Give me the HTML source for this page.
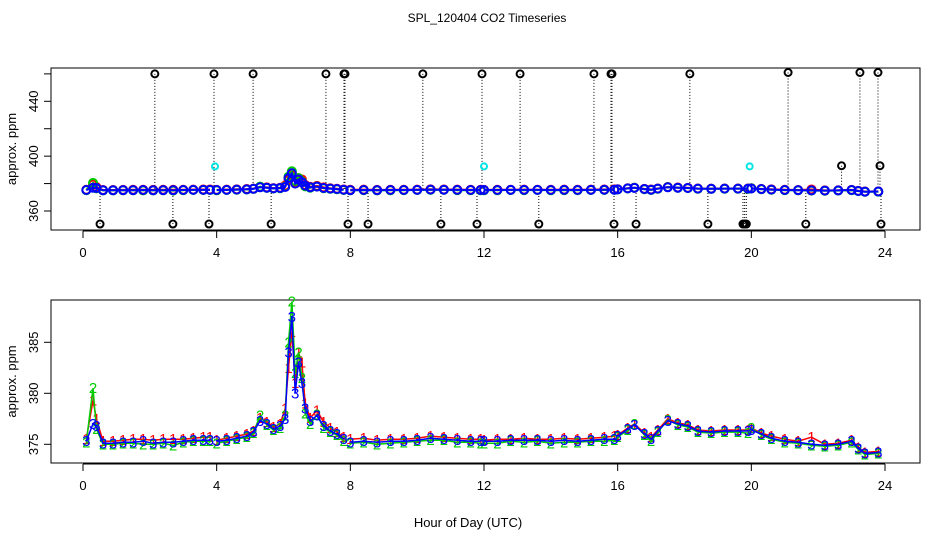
<!DOCTYPE html>
<html><head><meta charset="utf-8"><style>
body{margin:0;background:#fff}
svg{display:block;font-family:"Liberation Sans",Arial,sans-serif}
</style></head><body>
<svg id="chart" width="936" height="540" viewBox="0 0 936 540" xmlns="http://www.w3.org/2000/svg">
<rect width="936" height="540" fill="#fff"/>
<text x="487" y="22" text-anchor="middle" font-size="12">SPL_120404  CO2 Timeseries</text>
<text x="468" y="527" text-anchor="middle" font-size="13">Hour of Day (UTC)</text>
<g id="topPanel"></g>
<g id="botPanel"></g>
</svg>
<script>
const times=[0.1,0.3,0.4,0.6,0.9,1.2,1.5,1.8,2.1,2.4,2.7,3.0,3.3,3.6,3.8,3.9,4.0,4.3,4.6,4.9,5.1,5.3,5.5,5.7,5.9,6.05,6.15,6.25,6.35,6.45,6.55,6.65,6.8,7.0,7.2,7.4,7.6,7.8,7.9,8.0,8.4,8.8,9.2,9.6,10.0,10.4,10.8,11.2,11.6,11.9,11.95,12.0,12.4,12.8,13.2,13.6,14.0,14.4,14.8,15.2,15.6,15.9,15.95,16.0,16.3,16.5,16.8,17.0,17.2,17.5,17.8,18.1,18.4,18.8,19.2,19.6,19.9,19.95,20.0,20.3,20.6,21.0,21.4,21.8,22.2,22.6,23.0,23.2,23.4,23.8];
const series3=[375.3,377,376.8,375.1,375.1,375.2,375.2,375.3,375.1,375.2,375.2,375.3,375.4,375.4,375.4,null,375.3,375.4,375.6,375.8,376.2,377.3,377.0,376.5,376.8,377.5,384,387.5,380,383,381,378.5,377.3,377.8,376.8,376.3,376.0,375.5,null,375.2,375.3,375.2,375.3,375.3,375.4,375.6,375.5,375.4,375.3,375.3,null,375.3,375.3,375.4,375.4,375.4,375.3,375.4,375.3,375.4,375.5,375.5,null,375.8,376.5,376.9,376.0,375.5,376.3,377.3,377.0,376.8,376.3,376.2,376.3,376.3,376.3,null,376.4,376.0,375.6,375.3,375.2,375.0,374.9,375.0,375.3,374.6,374.1,374.2];
const series1=[375.5,379.3,377.5,375.3,375.3,375.4,375.5,375.5,375.4,375.5,375.5,375.5,375.6,375.7,375.7,null,375.4,375.6,375.8,376.0,376.3,377.6,377.2,376.7,377.0,378.5,382.5,386,381,384,383,379,377.6,378.3,377.2,376.6,376.2,375.7,null,375.5,375.6,375.4,375.5,375.5,375.6,375.8,375.7,375.6,375.5,375.5,null,375.4,375.5,375.5,375.6,375.5,375.5,375.6,375.5,375.6,375.7,375.8,null,375.9,376.6,377.0,376.1,375.7,376.4,377.5,377.1,376.9,376.4,376.3,376.4,376.4,376.4,null,376.6,376.1,375.8,375.5,375.3,375.7,375.0,375.1,375.4,374.7,374.2,374.3];
const series2=[375.2,380.5,376.5,375.0,375.0,375.1,375.1,375.0,375.0,375.1,374.9,375.2,375.3,375.3,375.3,null,375.1,375.3,375.5,375.7,376.1,377.8,376.9,376.4,376.6,377.8,385,389,382,384,381.5,378,377.0,377.9,376.6,376.2,375.9,375.3,null,375.1,375.2,375.0,375.1,375.2,375.3,375.4,375.4,375.2,375.2,375.1,null,375.1,375.1,375.3,375.2,375.3,375.1,375.2,375.2,375.3,375.3,375.4,null,375.7,376.4,377.0,375.9,375.3,376.2,377.4,376.9,376.7,376.2,376.1,376.2,376.2,376.1,null,376.6,375.9,375.5,375.2,375.1,374.9,374.8,374.9,375.2,374.5,374.0,374.1];
const highTimes=[2.15,3.92,5.09,7.27,7.81,7.84,10.17,11.94,13.08,15.29,15.8,15.83,18.16,21.1,23.25,23.79];
const highValues=[460,460,460,460,460,460,460,460,460,460,460,460,460,461,461,461];
const lowTimes=[0.51,2.69,3.77,5.63,7.93,8.53,10.71,11.79,13.64,15.89,16.55,18.7,19.75,19.8,19.85,21.63,23.88];
const lowValues=[350.5,350.5,350.5,350.5,350.5,350.5,350.5,350.5,350.5,350.5,350.5,350.5,350.5,350.5,350.5,350.5,350.5];
const midTimes=[22.7,23.85];
const midValues=[393,393];
const cyanTimes=[3.95,12.0,19.95];
const cyanValues=[392.5,392.5,392.5];
const xTicks=[0,4,8,12,16,20,24];
const topYTicks=[360,380,400,420,440,460];
const topYLabels=[360,400,440];
const botYTicks=[375,380,385];

const NS="http://www.w3.org/2000/svg";
const X=t=>83+t*(885-83)/24;
const Ytop=v=>211-(v-360)*(211-101.3)/80;
const Ybot=v=>444.3-(v-375)*10.2;
function mk(tag,attrs,parent,txt){const e=document.createElementNS(NS,tag);for(const k in attrs)e.setAttribute(k,attrs[k]);if(txt!=null)e.textContent=txt;parent.appendChild(e);return e;}

function frame(g,y0,y1,ticks,yf,labels,name){
  const b=mk('rect',{x:51,y:y0,width:869,height:y1-y0,fill:'none',stroke:'#000'},g);
  
  
  mk('line',{x1:X(0),x2:X(24),y1:y1+1,y2:y1+1,stroke:'#000'},g);
  xTicks.forEach(t=>{
    mk('line',{x1:X(t),x2:X(t),y1:y1+1,y2:y1+8,stroke:'#000'},g);
    const l=mk('text',{x:X(t),y:y1+27,'text-anchor':'middle','font-size':13},g,t);
    
    
  });
  mk('line',{x1:51,x2:51,y1:yf(ticks[0]),y2:yf(ticks[ticks.length-1]),stroke:'#000'},g);
  ticks.forEach(v=>mk('line',{x1:44,x2:51,y1:yf(v),y2:yf(v),stroke:'#000'},g));
  labels.forEach(v=>{
    const l=mk('text',{x:38,y:yf(v),'text-anchor':'middle','font-size':13,transform:`rotate(-90 38 ${yf(v)})`},g,v);
    
    
  });
  const yt=mk('text',{x:16,y:(y0+y1)/2,'text-anchor':'middle','font-size':13,transform:`rotate(-90 16 ${(y0+y1)/2})`},g,'approx. ppm');
  
  
}
const topG=document.getElementById('topPanel'), botG=document.getElementById('botPanel');
frame(topG,68,230,topYTicks,Ytop,topYLabels,'top');
frame(botG,300,463,botYTicks,Ybot,botYTicks,'bottom');

function outl(ts,vs,col){ts.forEach((t,i)=>{
  mk('line',{x1:X(t),x2:X(t),y1:Ytop(vs[i]),y2:Ytop(376),stroke:'#000','stroke-dasharray':'1,2','stroke-width':1},topG);
  const c=mk('circle',{cx:X(t),cy:Ytop(vs[i]),r:3.5,fill:'none',stroke:col,'stroke-width':2},topG);
  
  
});}
outl(highTimes,highValues,'#000');outl(lowTimes,lowValues,'#000');outl(midTimes,midValues,'#000');
cyanTimes.forEach((t,i)=>{
  const c=mk('circle',{cx:X(t),cy:Ytop(cyanValues[i]),r:3,fill:'none',stroke:'#00e5e5','stroke-width':2},topG);
  
  
});
const cols=['#f00','#0c0','#00f'], all=[series1,series2,series3];
all.forEach((s,k)=>{
  let dT='',dB='',pen=false;
  s.forEach((v,i)=>{
    if(v==null){pen=false;return;}
    dT+=(pen?'L':'M')+X(times[i]).toFixed(1)+','+Ytop(v).toFixed(1);
    dB+=(pen?'L':'M')+X(times[i]).toFixed(1)+','+Ybot(v).toFixed(1);
    pen=true;
    const c=mk('circle',{cx:X(times[i]),cy:Ytop(v),r:4,fill:'none',stroke:cols[k],'stroke-width':2},topG);
    
    
    const m=mk('text',{x:X(times[i]),y:Ybot(v)+5,'text-anchor':'middle','font-size':15,fill:cols[k]},botG,String(k+1));
    
    
  });
  const p=mk('path',{d:dB,fill:'none',stroke:cols[k],'stroke-width':1.5},botG);
  
  
  const p2=mk('path',{d:dT,fill:'none',stroke:cols[k],'stroke-width':2},topG);
  
  
});
</script>
</body></html>
